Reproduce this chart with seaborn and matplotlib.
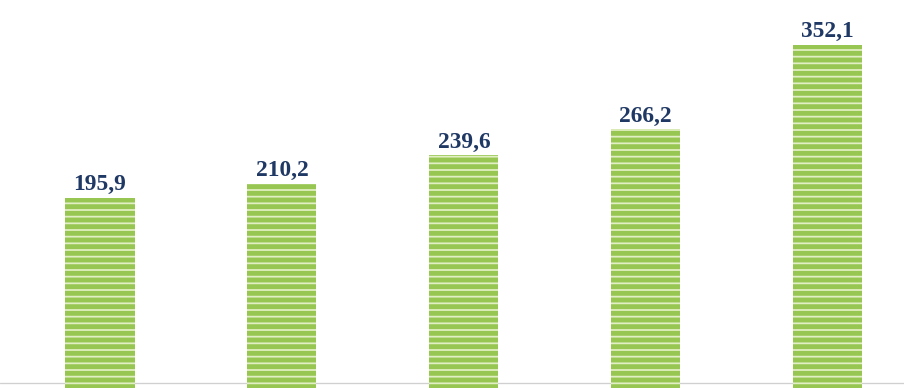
import matplotlib
matplotlib.use("Agg")
import matplotlib.pyplot as plt
import seaborn as sns
import pandas as pd

categories = ["A", "B", "C", "D", "E"]
values = [195.9, 210.2, 239.6, 266.2, 352.1]
labels = ["195,9", "210,2", "239,6", "266,2", "352,1"]

sns.set_style("white")
plt.rcParams["hatch.linewidth"] = 1.6

df = pd.DataFrame({"cat": categories, "val": values})

fig = plt.figure(figsize=(904 / 80, 388 / 80), dpi=80)
ax = fig.add_axes([0, -2 / 388, 1, 390 / 388])
sns.barplot(data=df, x="cat", y="val", color="#97c653", saturation=1,
            width=0.38, ax=ax, zorder=2)
for p in ax.patches:
    p.set_hatch("--")
    p.set_edgecolor("#e2efc4")
    p.set_linewidth(0)

ax.axhline(7.1, color="#d0d0d0", lw=1.2, zorder=1)

for i, (v, t) in enumerate(zip(values, labels)):
    ax.annotate(t, (i, v), xytext=(0, 2.5), textcoords="offset points",
                ha="center", va="bottom", fontsize=21, fontweight="bold",
                family="Liberation Serif", color="#1f3864")

ax.set_xlim(-0.55, 4.42)
ax.set_ylim(0, 398.2)
ax.axis("off")
fig.savefig("out.png", dpi=80)
